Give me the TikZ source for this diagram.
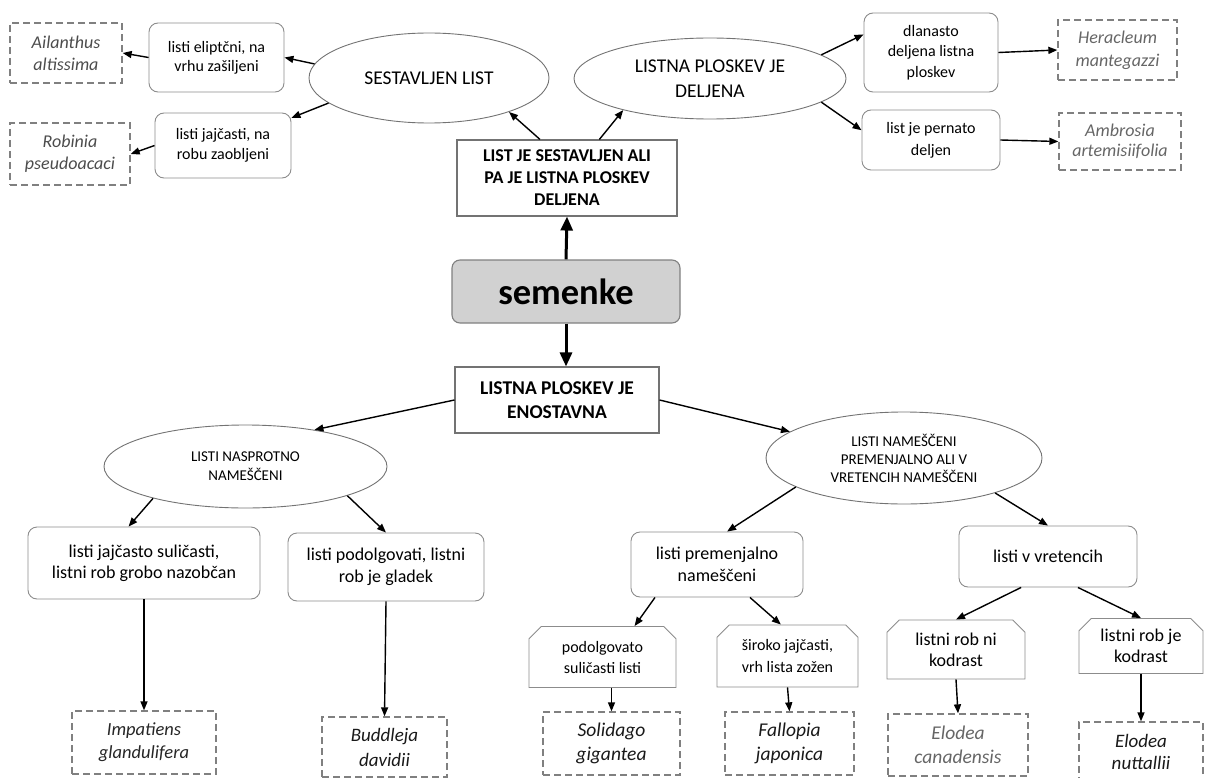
\documentclass[tikz,border=0pt]{standalone}
\usepackage{fontspec}
\setmainfont{Carlito}
\usetikzlibrary{arrows.meta,shapes.geometric,shapes.misc}
\newcommand{\fsz}[2]{\fontsize{#1}{#2}\selectfont}
\tikzset{
  leafbox/.style={draw=black!45,line width=0.9pt,rounded corners=9pt,align=center,inner sep=1pt},
  cutbox/.style={chamfered rectangle,chamfered rectangle corners={north west,north east},
    chamfered rectangle xsep=9pt,draw=black!45,line width=0.9pt,align=center,inner sep=1pt},
  plantbox/.style={draw=black!50,line width=1.3pt,dash pattern=on 7pt off 4pt,align=center,
    font=\itshape\fsz{18.5}{23},inner sep=1pt},
  keybox/.style={draw=black!55,line width=1.1pt,align=center,inner sep=1pt},
  groupell/.style={ellipse,draw=black!55,line width=0.9pt,align=center,inner sep=1pt},
  arr/.style={-{Triangle[length=9pt,width=7pt]},line width=1.4pt},
  bigarr/.style={-{Triangle[length=14pt,width=12pt]},line width=3pt}
}
\begin{document}
\begin{tikzpicture}[x=1pt,y=-1pt]
  \useasboundingbox (0,0) rectangle (1206,778);
  \node[plantbox,text=black!70,font=\itshape\fsz{18}{22},minimum width=112pt,minimum height=60pt]
    (ailanthus) at (66,53) {Ailanthus\\altissima};
  \node[leafbox,font=\fsz{16}{19},minimum width=135pt,minimum height=69pt]
    (eliptic) at (216.5,57.5) {listi eliptčni, na\\vrhu zašiljeni};
  \node[plantbox,text=black!70,font=\itshape\fsz{18}{22},minimum width=120pt,minimum height=62pt]
    (robinia) at (70,154) {Robinia\\pseudoacaci};
  \node[leafbox,font=\fsz{16}{20},minimum width=136pt,minimum height=65pt]
    (jajcasti) at (223,145.5) {listi jajčasti, na\\robu zaobljeni};
  \node[groupell,font=\fsz{19.5}{24},minimum width=240pt,minimum height=90pt]
    (sestav) at (429,78) {SESTAVLJEN LIST};
  \node[keybox,font=\bfseries\fsz{18}{22},minimum width=220pt,minimum height=76pt]
    (listje) at (567,178) {LIST JE SESTAVLJEN ALI\\PA JE LISTNA PLOSKEV\\DELJENA};
  \node[groupell,font=\fsz{19.5}{25},minimum width=272pt,minimum height=81pt]
    (deljena) at (710,78.5) {LISTNA PLOSKEV JE\\DELJENA};
  \node[leafbox,font=\fsz{16}{20.5},minimum width=134pt,minimum height=79pt]
    (dlanasto) at (931,52.5) {dlanasto\\deljena listna\\ploskev};
  \node[leafbox,font=\fsz{16}{22},minimum width=138pt,minimum height=60pt]
    (pernato) at (931,140) {list je pernato\\deljen};
  \node[plantbox,text=black!60,font=\itshape\fsz{18}{23},minimum width=119pt,minimum height=60pt]
    (heracleum) at (1117.5,50) {Heracleum\\mantegazzi};
  \node[plantbox,text=black!60,font=\itshape\fsz{18}{20},minimum width=122pt,minimum height=57pt]
    (ambrosia) at (1120,141.5) {Ambrosia\\artemisiifolia};
  \node[draw=black!50,fill=black!18,line width=1.1pt,rounded corners=8pt,font=\bfseries\fsz{36.5}{40},
    minimum width=228pt,minimum height=63pt] (semenke) at (566,291.5) {semenke};
  \node[keybox,font=\bfseries\fsz{19.5}{24},minimum width=204pt,minimum height=66pt]
    (enostavna) at (557,400) {LISTNA PLOSKEV JE\\ENOSTAVNA};
  \node[groupell,font=\fsz{15}{19},minimum width=283pt,minimum height=83pt]
    (nasprotno) at (245.5,466.5) {LISTI NASPROTNO\\NAMEŠČENI};
  \node[groupell,font=\fsz{15}{18},minimum width=276pt,minimum height=92pt]
    (namesceni) at (904,458) {LISTI NAMEŠČENI\\PREMENJALNO ALI V\\VRETENCIH NAMEŠČENI};
  \node[leafbox,font=\fsz{18}{21},minimum width=232pt,minimum height=72pt]
    (jajcasto) at (144,563) {listi jajčasto suličasti,\\listni rob grobo nazobčan};
  \node[leafbox,font=\fsz{18}{22},minimum width=196pt,minimum height=68pt]
    (podolgovati) at (386,567) {listi podolgovati, listni\\rob je gladek};
  \node[leafbox,font=\fsz{18}{22},minimum width=172pt,minimum height=65pt]
    (premenjalno) at (717,564.5) {listi premenjalno\\nameščeni};
  \node[leafbox,font=\fsz{18}{22},minimum width=178pt,minimum height=61pt]
    (vretencih) at (1048,556.5) {listi v vretencih};
  \node[cutbox,font=\fsz{16}{21},minimum width=147pt,minimum height=61pt]
    (podolgovato) at (602.5,657) {podolgovato\\suličasti listi};
  \node[cutbox,font=\fsz{16}{22},minimum width=141pt,minimum height=62pt]
    (siroko) at (787.5,656) {široko jajčasti,\\vrh lista zožen};
  \node[cutbox,font=\fsz{18}{21},minimum width=138pt,minimum height=59pt]
    (robni) at (956,649.5) {listni rob ni\\kodrast};
  \node[cutbox,font=\fsz{18}{21},minimum width=124pt,minimum height=55pt]
    (robje) at (1141,646) {listni rob je\\kodrast};
  \node[plantbox,text=black!85,minimum width=144pt,minimum height=63pt]
    (impatiens) at (144,742.5) {Impatiens\\glandulifera};
  \node[plantbox,text=black!90,font=\itshape\fsz{19}{25},minimum width=125pt,minimum height=60pt]
    (buddleja) at (384.5,747) {Buddleja\\davidii};
  \node[plantbox,text=black!90,font=\itshape\fsz{19.5}{24},minimum width=137pt,minimum height=63pt]
    (solidago) at (611.5,743.5) {Solidago\\gigantea};
  \node[plantbox,text=black!90,font=\itshape\fsz{19.5}{24},minimum width=129pt,minimum height=63pt]
    (fallopia) at (789.5,743.5) {Fallopia\\japonica};
  \node[plantbox,text=black!60,font=\itshape\fsz{19.5}{24},minimum width=140pt,minimum height=62pt]
    (canadensis) at (958,745) {Elodea\\canadensis};
  \node[plantbox,text=black!90,font=\itshape\fsz{19}{22},minimum width=124pt,minimum height=60pt]
    (nuttallii) at (1141,752) {Elodea\\nuttallii};
  \begin{scope}[bigarr]
    \draw (semenke.north) to (listje.south);
    \draw (semenke.south) to (semenke.south |- enostavna.north);
  \end{scope}
  \begin{scope}[arr]
    \draw (sestav.173) to (eliptic.east);
    \draw (sestav.194) to (jajcasti.22);
    \draw (eliptic.west) to (ailanthus.east);
    \draw (jajcasti.west) to (robinia.east);
    \draw (listje.125) to (sestav.337);
    \draw (listje.50) to (deljena.200);
    \draw (deljena.12) to (dlanasto.165);
    \draw (deljena.348) to (pernato.172);
    \draw (dlanasto.east) to (heracleum.west);
    \draw (pernato.east) to (ambrosia.west);
    \draw (enostavna.west) to (nasprotno.28);
    \draw (enostavna.east) to (namesceni.167);
    \draw (nasprotno.199) to (jajcasto.113);
    \draw (nasprotno.344) to (podolgovati.north);
    \draw (namesceni.195) to (premenjalno.73);
    \draw (namesceni.339) to (vretencih.north);
    \draw (premenjalno.208) to (podolgovato.44);
    \draw (premenjalno.315) to (siroko.102);
    \draw (vretencih.229) to (robni.north);
    \draw (vretencih.314) to (robje.north);
    \draw (jajcasto.south) to (impatiens.north);
    \draw (podolgovati.south) to (buddleja.north);
    \draw (podolgovato.south -| solidago.north) to (solidago.north);
    \draw (siroko.south) to (fallopia.north);
    \draw (robni.south) to (canadensis.north);
    \draw (robje.south) to (nuttallii.north);
  \end{scope}
\end{tikzpicture}
\end{document}
